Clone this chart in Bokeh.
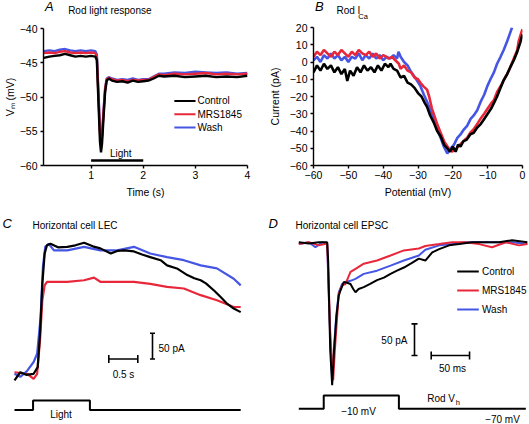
from bokeh.plotting import figure
from bokeh.models import Range1d, FixedTicker
from bokeh.layouts import row, column
from bokeh.embed import file_html
from bokeh.resources import INLINE
from bokeh.core.properties import value

# ------------------------------------------------------------------ data
SERIES = ["Control", "MRS1845", "Wash"]

# A: rod light response, membrane potential (mV) vs time (s)
A_T = [0.09, 0.2, 0.3, 0.4, 0.5, 0.6, 0.7, 0.8, 0.9, 1.0, 1.08, 1.11, 1.14, 1.17, 1.19,
       1.21, 1.24, 1.27, 1.30, 1.34, 1.40, 1.5, 1.6, 1.7, 1.8, 1.9, 2.0, 2.1, 2.2, 2.3,
       2.4, 2.6, 2.8, 3.0, 3.2, 3.4, 3.6, 3.8, 4.0]
A_CTRL = [-44.3, -44.1, -44.0, -43.9, -43.7, -43.9, -44.1, -44.0, -44.1, -44.0, -44.1, -44.6,
          -50.5, -56.5, -58.1, -56.8, -52.8, -49.2, -47.6, -47.3, -47.6, -47.8, -47.7, -47.9,
          -47.6, -47.8, -47.7, -47.6, -47.3, -46.9, -47.0, -46.9, -47.1, -47.0, -46.9, -47.1,
          -47.0, -47.1, -46.9]
A_MRS = [-43.6, -43.5, -43.6, -43.4, -43.3, -43.5, -43.6, -43.5, -43.6, -43.5, -43.6, -44.1,
         -49.6, -55.3, -56.8, -55.8, -52.0, -48.8, -47.4, -47.2, -47.4, -47.6, -47.5, -47.7,
         -47.5, -47.6, -47.5, -47.5, -47.1, -46.7, -46.8, -46.6, -46.7, -46.6, -46.5, -46.7,
         -46.6, -46.7, -46.6]
A_WASH = [-43.3, -43.2, -43.3, -43.1, -43.0, -43.2, -43.3, -43.2, -43.3, -43.2, -43.3, -43.8,
          -49.1, -54.8, -56.3, -55.5, -51.8, -48.6, -47.3, -47.1, -47.3, -47.5, -47.4, -47.5,
          -47.3, -47.5, -47.4, -47.4, -47.0, -46.6, -46.6, -46.4, -46.5, -46.3, -46.4, -46.5,
          -46.4, -46.6, -46.5]
A_LIGHT = [1.0, 2.0]                    # light on / off (s)
A_XTICKS = [1, 2, 3, 4]
A_XLABELS = ["1", "2", "3", "4"]
A_YTICKS = [-60, -55, -50, -45, -40]
A_YLABELS = ["\u221260", "\u221255", "\u221250", "\u221245", "\u221240"]

# B: rod I_Ca, current (pA) vs potential (mV)
B_CTRL_V = [-60, -59, -58, -57, -56, -55, -54, -53, -52, -51, -50.3, -49.5, -48.5, -47.5, -46.5,
            -45.5, -44.5, -43.5, -42.5, -41.5, -40.5, -39.5, -38.5, -37.9, -37, -36, -35, -34,
            -33, -32, -31, -30, -29, -28, -27.4, -26.5, -25.5, -24.5, -23.5, -22.5, -21.6, -20.8,
            -20, -19.2, -18.5, -17.8, -17, -16, -15, -14, -13, -12, -11, -10, -9, -8, -7.3,
            -6.5, -5.5, -4.4, -3.5, -2.5, -1.5, -0.7, 0]
B_CTRL_I = [-6, -2, -5, -1, -4, -2, -6, -3, -7, -4, -11, -5, -8, -3, -6, -2, -5, -3, -6, -2,
            -5, -1, -3, -1, -4, -5, -9, -8, -12, -13, -15, -18, -20, -24, -26, -31, -35, -40,
            -43, -48, -50, -52, -49, -52, -48, -49, -46, -45, -42, -41, -38, -36, -33, -30, -27,
            -23, -20, -16, -11, -7, -3, 1, 6, 11, 16]
B_MRS_V = [-60, -59, -58, -57, -56, -55, -54, -53, -52, -51, -50, -49, -48, -47, -46, -45, -44,
           -43, -42, -41, -40, -39, -38.5, -37.5, -36.5, -35.5, -35, -34, -33, -32, -31, -30,
           -29.3, -28.5, -27.4, -26.8, -26, -25.5, -24.5, -23.5, -22.5, -21.2, -20.3, -19.3,
           -18.5, -17.5, -16.5, -15.9, -15, -14, -13, -12.1, -11, -10, -9, -8.2, -7.2, -6, -5,
           -4.4, -3.5, -2.5, -1.5, -1.1, -0.5, 0]
B_MRS_I = [3, 6, 4, 7, 5, 3, 6, 4, 7, 5, 3, 6, 4, 7, 5, 4, 6, 3, 5, 2, 4, 3, 2, 3, 1, -1, -4,
           -2, -5, -6, -9, -10, -12, -14, -16, -20, -27, -30, -36, -41, -46, -50, -52, -51,
           -49, -47, -45, -44, -41, -39, -36, -33, -30, -27, -24, -22, -17, -13, -9, -7, -3, 2,
           7, 12, 16, 19]
B_WASH_V = [-60, -59, -58, -57, -56, -55, -54, -53, -52, -51, -50, -49, -48, -47, -46, -45, -44,
            -43, -42, -41, -40, -39, -38, -37, -36, -35.6, -35, -34, -33, -32.2, -31.2, -30.2,
            -29.3, -28.3, -27.4, -26.4, -25.4, -24.5, -23.5, -22.6, -21.6, -20.6, -19.7, -18.7,
            -17.8, -16.8, -15.9, -14.9, -14, -13, -12, -11, -10.1, -9.2, -8.2, -7.3, -6.3, -5.4,
            -4.4, -3.7, -3]
B_WASH_I = [1, 3, 0, 4, 2, 5, 2, 4, 1, 3, 0, 3, 2, 5, 1, 4, 2, 5, 2, 4, 1, 3, 2, 4, 2, 6, 3, 0,
            -2, -5, -8, -11, -14, -19, -23, -28, -33, -39, -44, -49, -53, -50, -48, -44, -42,
            -39, -37, -33, -31, -28, -23, -19, -14, -10, -6, -1, 3, 7, 12, 16, 20]
B_XTICKS = [-60, -50, -40, -30, -20, -10, 0]
B_XLABELS = ["\u221260", "\u221250", "\u221240", "\u221230", "\u221220", "\u221210", "0"]
B_YTICKS = [-60, -50, -40, -30, -20, -10, 0, 10, 20]
B_YLABELS = ["\u221260", "\u221250", "\u221240", "\u221230", "\u221220", "\u221210", "0", "10", "20"]

# C: horizontal cell light-evoked current (pA) vs time (s)
C_CTRL_T = [0.00, 0.10, 0.20, 0.33, 0.40, 0.44, 0.48, 0.52, 0.56, 0.62, 0.75, 0.91, 1.05, 1.20,
            1.35, 1.48, 1.66, 1.77, 1.90, 2.06, 2.20, 2.34, 2.52, 2.63, 2.80, 2.98, 3.10, 3.21,
            3.30, 3.44, 3.55, 3.67, 3.78, 3.90]
C_CTRL_I = [-13, 3, -2, 0, 13, 78, 175, 234, 250, 253, 246, 247, 250, 255, 248, 244, 234, 239,
            240, 238, 232, 227, 221, 211, 205, 192, 186, 182, 176, 162, 150, 136, 127, 120]
C_MRS_T = [0.00, 0.22, 0.33, 0.39, 0.44, 0.48, 0.52, 0.56, 0.91, 1.20, 1.37, 1.48, 1.77, 2.06,
           2.34, 2.63, 2.92, 3.21, 3.49, 3.78, 3.90]
C_MRS_I = [3, 0, -10, 0, 65, 143, 172, 179, 179, 182, 187, 179, 179, 179, 175, 169, 166, 153,
           143, 130, 130]
C_WASH_T = [0.00, 0.10, 0.22, 0.33, 0.39, 0.45, 0.49, 0.53, 0.59, 0.68, 0.91, 1.20, 1.48, 1.77,
            2.06, 2.34, 2.63, 2.92, 3.21, 3.49, 3.78, 3.90]
C_WASH_I = [0, -6, 6, 23, 39, 110, 208, 247, 253, 240, 240, 247, 240, 240, 247, 234, 227, 221,
            211, 205, 185, 172]
C_LIGHT_T = [0, 0.32, 0.32, 1.30, 1.30, 3.90]
C_LIGHT = [0, 0, 1, 1, 0, 0]
C_SCALE_I = 50      # pA
C_SCALE_T = 0.5     # s

# D: horizontal cell EPSC (pA) vs time (ms)
D_CTRL_T = [0, 13, 26, 37, 38.3, 39.5, 41, 43.5, 46, 49, 52, 54.4, 58.7, 63, 67.4, 71, 73.9, 78,
            84.7, 93, 102, 111, 119.6, 128, 137, 147, 156.5, 165, 174, 183, 196, 209, 226, 243,
            261, 278, 298]
D_CTRL_I = [0, -2, 0, 0, -30, -95, -171, -226, -171, -118, -85, -76, -63, -64, -66, -74, -79,
            -74, -71, -66, -60, -56, -50, -45, -40, -33, -26, -29, -16, -11, -5, -3, 0, 0, 0, 3, 0]
D_MRS_T = [0, 13, 26, 37, 39, 41, 44.8, 47, 50, 52, 56.5, 60.9, 67.4, 74, 84.7, 102, 119.6, 137,
           156.5, 165, 183, 200, 217, 235, 252, 270, 287, 298]
D_MRS_I = [-3, 0, -5, -2, -66, -145, -218, -171, -118, -82, -68, -66, -47, -42, -34, -29, -21,
           -13, -10, -6, -3, 0, 0, -3, -8, 0, -5, -3]
D_WASH_T = [0, 13, 21.7, 30.4, 37, 39, 41.3, 43.5, 45.7, 48.7, 52.2, 56.5, 60.9, 67.4, 73.9, 84.7,
            102, 119.6, 137, 156.5, 165, 183, 200, 217, 235, 261, 278, 298]
D_WASH_I = [-3, 0, -8, 0, -2, -82, -161, -216, -171, -118, -79, -66, -63, -61, -58, -50, -45,
            -37, -29, -21, -12, -5, -3, 0, 0, 0, 0, -3]
D_VH_T = [0, 32.5, 32.5, 130.5, 130.5, 296]
D_VH = [-70, -70, -10, -10, -70, -70]
D_SCALE_I = 50      # pA
D_SCALE_T = 50      # ms

# ------------------------------------------------------------------ style / layout
FONT = "Liberation Sans"
COLORS = {"Control": "#000000", "MRS1845": "#e8283a", "Wash": "#4656e4"}
REF_W, REF_H = 529, 424
W, H = 529, 424
SX, SY = W / REF_W, H / REF_H


def make_fig(box, frame, xr, yr, axes):
    x0, y0, x1, y1 = box
    L, T, R, B = round(x0 * SX), round(y0 * SY), round(x1 * SX), round(y1 * SY)
    fl, ft, fr, fb = frame
    kw = dict(width=R - L, height=B - T, x_range=xr, y_range=yr,
              output_backend="svg", toolbar_location=None,
              min_border_left=round(fl * SX) - L, min_border_right=R - round(fr * SX),
              min_border_top=round(ft * SY) - T, min_border_bottom=B - round(fb * SY))
    if not axes:
        kw.update(x_axis_type=None, y_axis_type=None)
    p = figure(**kw)
    p.outline_line_color = None
    p.background_fill_color = "white"
    p.border_fill_color = "white"
    if axes:
        p.grid.visible = False
    return p


def header(box):
    x0, y0, x1, y1 = box
    return make_fig(box, box, Range1d(x0, x1), Range1d(y1, y0), False)


def style_axis(ax, ticks, labels, label_text, label_standoff, tick_standoff):
    ax.ticker = FixedTicker(ticks=ticks)
    ax.major_label_overrides = {t: s for t, s in zip(ticks, labels)}
    ax.minor_tick_line_color = None
    ax.major_tick_in = 0
    ax.major_tick_out = 3
    ax.axis_line_width = 1.4
    ax.major_tick_line_width = 1.4
    ax.axis_line_color = "black"
    ax.major_tick_line_color = "black"
    ax.major_label_text_font = FONT
    ax.major_label_text_font_size = "10.5px"
    ax.major_label_text_color = "black"
    ax.major_label_standoff = tick_standoff
    ax.axis_label = label_text
    ax.axis_label_text_font = FONT
    ax.axis_label_text_font_size = "10.5px"
    ax.axis_label_text_font_style = "normal"
    ax.axis_label_text_color = "black"
    ax.axis_label_standoff = label_standoff


def texts(p, xs, ys, ts, size="10px", style="normal", align="left", **kw):
    p.text(x=xs, y=ys, text=ts, text_font=value(FONT), text_font_size=value(size),
           text_font_style=style, text_align=align, text_baseline="middle",
           text_color="black", **kw)


# ---------------- panel A
A_PX = 53.667          # px per s
A_PY = 6.9             # px per mV
def xa(X): return 1 + (X - 86) / A_PX
def ya(Y): return -40 - (Y - 28) / A_PY

ha = header((0, 0, 265, 20))
texts(ha, [2], [6], ["A"], size="13px", style="italic")
texts(ha, [32], [9.5], ["Rod light response"])

pa = make_fig((0, 20, 265, 200), (37, 28, 247, 166),
              Range1d(xa(37), 4), Range1d(-60, -40), True)
style_axis(pa.xaxis[0], A_XTICKS, A_XLABELS, "Time (s)", 4, 2)
style_axis(pa.yaxis[0], A_YTICKS, A_YLABELS, "V\u2098 (mV)", 1, 3)
for name, ys in (("Wash", A_WASH), ("MRS1845", A_MRS), ("Control", A_CTRL)):
    pa.line(A_T, ys, line_color=COLORS[name], line_width=2.4)
pa.line(A_LIGHT, [ya(161)] * 2, line_color="black", line_width=2.5)
texts(pa, [xa(116.5)], [ya(153.5)], ["Light"], align="center")
for i, name in enumerate(SERIES):
    yy = ya(101 + i * 13.4)
    pa.line([xa(171.7), xa(193.5)], [yy, yy], line_color=COLORS[name], line_width=2)
    texts(pa, [xa(195.5)], [yy], [name])

# ---------------- panel B
hb = header((265, 0, 529, 20))
texts(hb, [267], [6], ["B"], size="13px", style="italic")
texts(hb, [294], [10], ["Rod I"])
texts(hb, [321.5], [15.5], ["Ca"], size="7.5px")

pb = make_fig((265, 20, 529, 200), (313, 27, 522, 166),
              Range1d(-60, 0), Range1d(-60, 20), True)
style_axis(pb.xaxis[0], B_XTICKS, B_XLABELS, "Potential (mV)", 4, 2)
style_axis(pb.yaxis[0], B_YTICKS, B_YLABELS, "Current (pA)", 6, 3)
for name, xs, ys in (("Wash", B_WASH_V, B_WASH_I), ("MRS1845", B_MRS_V, B_MRS_I),
                     ("Control", B_CTRL_V, B_CTRL_I)):
    pb.line(xs, ys, line_color=COLORS[name], line_width=2.6)

# ---------------- panel C
C_PX = 58.0            # px per s
C_PY = 0.514           # px per pA
C_T0, C_Y0 = 14, 373.3
C_SY0, C_SPX = 409.5, 9.5
def xc(X): return (X - C_T0) / C_PX
def yc(Y): return (C_Y0 - Y) / C_PY
def sc(Y): return (C_SY0 - Y) / C_SPX

pc = make_fig((0, 200, 265, 424), (0, 200, 265, 424),
              Range1d(xc(0), xc(265)), Range1d(yc(424), yc(200)), False)
pc.extra_y_ranges = {"stim": Range1d(sc(424), sc(200))}
for name, xs, ys in (("MRS1845", C_MRS_T, C_MRS_I), ("Wash", C_WASH_T, C_WASH_I),
                     ("Control", C_CTRL_T, C_CTRL_I)):
    pc.line(xs, ys, line_color=COLORS[name], line_width=2.2)
pc.line(C_LIGHT_T, C_LIGHT, y_range_name="stim", line_color="black", line_width=2)
vx, vb = xc(152), yc(358.5)
hx0, hy = xc(108.3), yc(358.5)
cap_t, cap_i = 2.5 / C_PX, 4 / C_PY
pc.segment(x0=[vx, vx - cap_t, vx - cap_t], y0=[vb, vb, vb + C_SCALE_I],
           x1=[vx, vx + cap_t, vx + cap_t], y1=[vb + C_SCALE_I, vb, vb + C_SCALE_I],
           line_color="black", line_width=1.6)
pc.segment(x0=[hx0, hx0, hx0 + C_SCALE_T], y0=[hy, hy - cap_i, hy - cap_i],
           x1=[hx0 + C_SCALE_T, hx0, hx0 + C_SCALE_T], y1=[hy, hy + cap_i, hy + cap_i],
           line_color="black", line_width=1.6)
texts(pc, [xc(158)], [yc(348)], ["50 pA"])
texts(pc, [xc(123)], [yc(374)], ["0.5 s"], align="center")
texts(pc, [xc(2)], [yc(223)], ["C"], size="13px", style="italic")
texts(pc, [xc(32)], [yc(225)], ["Horizontal cell LEC"])
texts(pc, [xc(60.5)], [sc(414)], ["Light"], align="center", y_range_name="stim")

# ---------------- panel D
D_PX = 0.767           # px per ms
D_PY = 0.633           # px per pA
D_T0, D_Y0 = 298.3, 241.7
D_SY0, D_SPX = 408.3, 0.2217
def xd(X): return (X - D_T0) / D_PX
def yd(Y): return (D_Y0 - Y) / D_PY
def sd(Y): return -70 + (D_SY0 - Y) / D_SPX

pd = make_fig((265, 200, 529, 424), (265, 200, 529, 424),
              Range1d(xd(265), xd(529)), Range1d(yd(424), yd(200)), False)
pd.extra_y_ranges = {"stim": Range1d(sd(424), sd(200))}
for name, xs, ys in (("Wash", D_WASH_T, D_WASH_I), ("MRS1845", D_MRS_T, D_MRS_I),
                     ("Control", D_CTRL_T, D_CTRL_I)):
    pd.line(xs, ys, line_color=COLORS[name], line_width=2)
pd.line(D_VH_T, D_VH, y_range_name="stim", line_color="black", line_width=2)
vx, vb = xd(414), yd(355)
hx0, hy = xd(430.7), yd(355)
cap_t, cap_i = 3 / D_PX, 4 / D_PY
pd.segment(x0=[vx, vx - cap_t, vx - cap_t], y0=[vb, vb, vb + D_SCALE_I],
           x1=[vx, vx + cap_t, vx + cap_t], y1=[vb + D_SCALE_I, vb, vb + D_SCALE_I],
           line_color="black", line_width=1.6)
pd.segment(x0=[hx0, hx0, hx0 + D_SCALE_T], y0=[hy, hy - cap_i, hy - cap_i],
           x1=[hx0 + D_SCALE_T, hx0, hx0 + D_SCALE_T], y1=[hy, hy + cap_i, hy + cap_i],
           line_color="black", line_width=1.6)
texts(pd, [xd(407)], [yd(339.5)], ["50 pA"], align="right")
texts(pd, [xd(452)], [yd(368)], ["50 ms"], align="center")
texts(pd, [xd(268)], [yd(223)], ["D"], size="13px", style="italic")
texts(pd, [xd(295)], [yd(225)], ["Horizontal cell EPSC"])
for i, name in enumerate(SERIES):
    yy = yd(271 + i * 19)
    pd.line([xd(456.7), xd(478.3)], [yy, yy], line_color=COLORS[name], line_width=2)
    texts(pd, [xd(481.5)], [yy], [name])
texts(pd, [xd(358)], [sd(411)], ["\u221210 mV"], align="center", y_range_name="stim")
texts(pd, [xd(426.7)], [sd(397.5)], ["Rod V"], y_range_name="stim")
texts(pd, [xd(455.3)], [sd(402)], ["h"], size="7.5px", y_range_name="stim")
texts(pd, [xd(502)], [sd(418.5)], ["\u221270 mV"], align="center", y_range_name="stim")

layout = column(row(column(ha, pa), column(hb, pb)), row(pc, pd))
open("out.html", "w").write(file_html(layout, INLINE))
